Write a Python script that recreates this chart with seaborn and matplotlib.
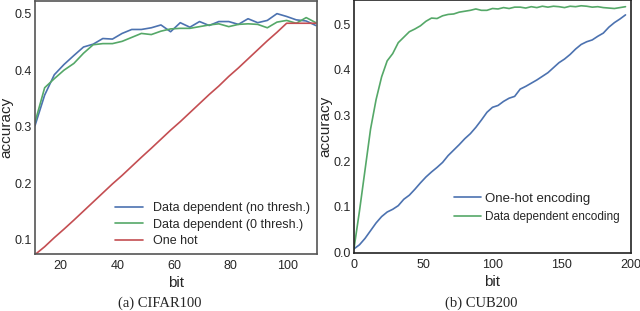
import matplotlib
matplotlib.use("Agg")
import matplotlib.pyplot as plt
import seaborn as sns
import pandas as pd

# CIFAR100 panel
bits_cifar = [11, 14.4, 17.8, 21.2, 24.7, 28.1, 31.5, 34.9, 38.3, 41.7, 45.1, 48.5, 52.0, 55.4, 58.8,
              62.2, 65.6, 69.0, 72.4, 75.8, 79.3, 82.7, 86.1, 89.5, 92.9, 96.3, 99.7, 103.1, 106.6, 110]
no_thresh = [0.302, 0.356, 0.392, 0.410, 0.426, 0.441, 0.446, 0.456, 0.455, 0.465, 0.472, 0.472, 0.475, 0.480, 0.468,
             0.484, 0.476, 0.486, 0.479, 0.486, 0.486, 0.481, 0.491, 0.484, 0.488, 0.500, 0.495, 0.489, 0.487, 0.479]
zero_thresh = [0.308, 0.369, 0.385, 0.400, 0.412, 0.430, 0.445, 0.447, 0.447, 0.451, 0.458, 0.465, 0.463, 0.469, 0.473,
               0.474, 0.474, 0.477, 0.480, 0.482, 0.477, 0.481, 0.482, 0.481, 0.475, 0.485, 0.488, 0.483, 0.493, 0.484]
one_hot = [0.074, 0.088, 0.104, 0.119, 0.135, 0.151, 0.167, 0.183, 0.199, 0.214, 0.230, 0.246, 0.262, 0.278, 0.294,
           0.309, 0.325, 0.341, 0.357, 0.372, 0.389, 0.404, 0.420, 0.436, 0.452, 0.467, 0.483, 0.483, 0.483, 0.483]

# CUB200 panel
bits_cub = list(range(0, 200, 4))
cub_onehot = [0.007, 0.016, 0.030, 0.047, 0.064, 0.078, 0.088, 0.094, 0.102, 0.116,
              0.125, 0.138, 0.152, 0.165, 0.176, 0.186, 0.197, 0.212, 0.224, 0.236,
              0.249, 0.260, 0.274, 0.290, 0.307, 0.318, 0.322, 0.331, 0.338, 0.342,
              0.358, 0.364, 0.371, 0.378, 0.386, 0.394, 0.405, 0.416, 0.424, 0.434,
              0.446, 0.456, 0.462, 0.466, 0.474, 0.481, 0.494, 0.504, 0.512, 0.521]
cub_datadep = [0.007, 0.090, 0.180, 0.270, 0.335, 0.385, 0.420, 0.436, 0.460, 0.472,
               0.484, 0.490, 0.497, 0.507, 0.514, 0.513, 0.519, 0.522, 0.523, 0.527,
               0.529, 0.531, 0.534, 0.531, 0.531, 0.535, 0.534, 0.537, 0.535, 0.538,
               0.538, 0.536, 0.539, 0.537, 0.540, 0.538, 0.540, 0.539, 0.537, 0.540,
               0.539, 0.541, 0.540, 0.538, 0.539, 0.537, 0.536, 0.535, 0.537, 0.539]

sns.set_style("white")
plt.rcParams['font.family'] = ['Liberation Sans', 'DejaVu Sans']
plt.rcParams['font.size'] = 9
pal = sns.color_palette("deep")
blue, green, red = pal[0], pal[2], pal[3]

fig = plt.figure(figsize=(6.4, 3.11), dpi=100)
ax1 = fig.add_axes([0.0547, 0.182, 0.441, 0.816])
ax2 = fig.add_axes([0.553, 0.1865, 0.433, 0.8125])

sns.lineplot(x=bits_cifar, y=no_thresh, ax=ax1, color=blue, lw=1.2, label="Data dependent (no thresh.)")
sns.lineplot(x=bits_cifar, y=zero_thresh, ax=ax1, color=green, lw=1.2, label="Data dependent (0 thresh.)")
sns.lineplot(x=bits_cifar, y=one_hot, ax=ax1, color=red, lw=1.2, label="One hot")
ax1.set_xlim(11, 110.5)
ax1.set_ylim(0.0744, 0.523)
ax1.set_xticks([20, 40, 60, 80, 100])
ax1.set_yticks([0.1, 0.2, 0.3, 0.4, 0.5])
ax1.set_xlabel("bit", fontsize=11, labelpad=3)
ax1.set_ylabel("accuracy", fontsize=11, labelpad=1)
ax1.legend(loc="lower right", frameon=False, fontsize=9, handlelength=2.2,
           borderaxespad=0.2, labelspacing=0.35)

sns.lineplot(x=bits_cub, y=cub_onehot, ax=ax2, color=blue, lw=1.2, label="One-hot encoding")
sns.lineplot(x=bits_cub, y=cub_datadep, ax=ax2, color=green, lw=1.2, label="Data dependent encoding")
ax2.set_xlim(0, 200)
ax2.set_ylim(-0.002, 0.553)
ax2.set_xticks([0, 50, 100, 150, 200])
ax2.set_yticks([0.0, 0.1, 0.2, 0.3, 0.4, 0.5])
ax2.set_xlabel("bit", fontsize=11, labelpad=3)
ax2.set_ylabel("accuracy", fontsize=11, labelpad=1)
leg = ax2.legend(loc="lower right", frameon=False, fontsize=9.5, handlelength=2.0,
                 handletextpad=0.3, bbox_to_anchor=(1.0, 0.07), labelspacing=0.5)
leg.get_texts()[1].set_fontsize(8.5)

for ax, c in [(ax1, "#555555"), (ax2, "#222222")]:
    for s in ax.spines.values():
        s.set_color(c)
        s.set_linewidth(1.2)
    ax.tick_params(axis="both", labelsize=9, length=0)
    ax.tick_params(axis="x", pad=4)
    ax.tick_params(axis="y", pad=2)

fig.text(0.249, 0.025, "(a) CIFAR100", ha="center", va="center", family="Liberation Serif", fontsize=10.5)
fig.text(0.752, 0.025, "(b) CUB200", ha="center", va="center", family="Liberation Serif", fontsize=10.5)

fig.savefig("out.png", dpi=100)
